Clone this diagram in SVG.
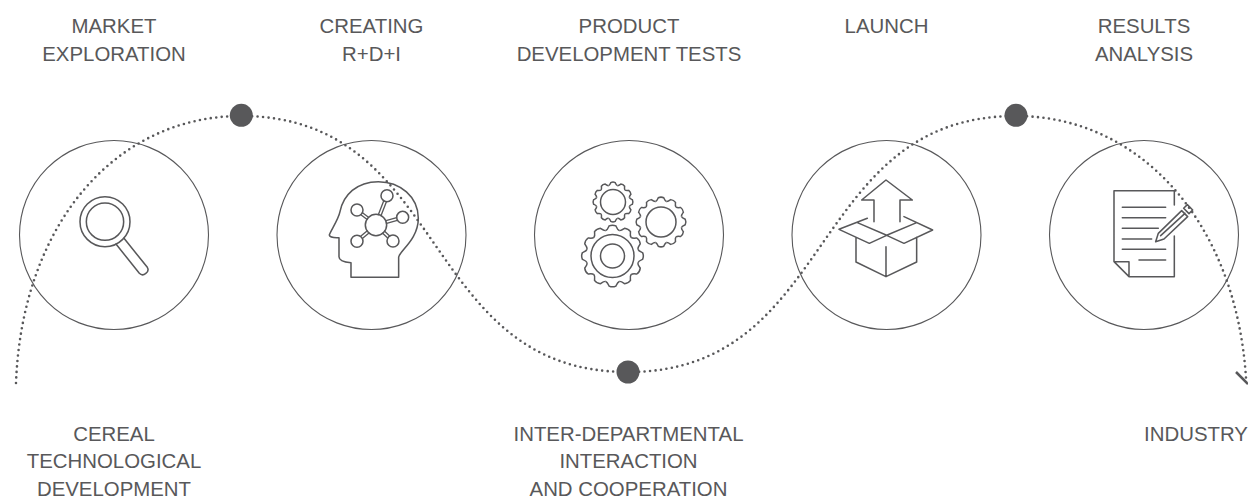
<svg xmlns="http://www.w3.org/2000/svg" width="1248" height="499" viewBox="0 0 1248 499">
<style>
text{font-family:"Liberation Sans",Arial,sans-serif;font-size:20.4px;fill:#58585a;text-anchor:middle}
.ring{fill:#fff;stroke:#58585a;stroke-width:1.1}
.dot{fill:#58585a}
.ic{fill:none;stroke:#58585a;stroke-width:4.6;stroke-linejoin:round;stroke-linecap:round}
.gr{fill:none;stroke:#58585a;stroke-width:1.5}
.flow{fill:none;stroke:#58585a;stroke-width:2.6;stroke-linecap:round;stroke-dasharray:0 5.5}
</style>
<defs>
<path id="t" vector-effect="non-scaling-stroke" d="M-.22-.82C-.16-.84-.14-.9-.11-.97Q0-1.02.11-.97C.14-.9.16-.84.22-.82"/>
<g id="gear"><use href="#t"/><use href="#t" transform="rotate(30)"/><use href="#t" transform="rotate(60)"/><use href="#t" transform="rotate(90)"/><use href="#t" transform="rotate(120)"/><use href="#t" transform="rotate(150)"/><use href="#t" transform="rotate(180)"/><use href="#t" transform="rotate(210)"/><use href="#t" transform="rotate(240)"/><use href="#t" transform="rotate(270)"/><use href="#t" transform="rotate(300)"/><use href="#t" transform="rotate(330)"/></g>
</defs>
<g id="node-market">
<circle class="ring" cx="114" cy="235" r="94.5"/>
<g class="ic" transform="translate(50,170) scale(.3333)"><circle cx="165" cy="155" r="75"/><circle cx="165" cy="155" r="56"/><path d="M198 222L268 310C280 322 300 305 292 292L222 205"/></g>
<text x="114" y="33">MARKET</text><text x="114" y="60.500">EXPLORATION</text>
</g>
<g id="node-creating">
<circle class="ring" cx="371.500" cy="235" r="94.500"/>
<g class="ic" transform="translate(280,140) scale(.3333)"><path d="M213 368V412H356V352C356 335 415 300 415 235C415 170 360 125 295 125C230 125 190 165 180 215C175 240 150 275 148 285C150 295 175 293 177 293V350C177 362 190 366 213 368Z"/><circle cx="288" cy="255" r="32"/><circle cx="321" cy="167" r="18"/><circle cx="368" cy="232" r="18"/><circle cx="339" cy="303" r="18"/><circle cx="231" cy="304" r="18"/><circle cx="231" cy="210" r="18"/><path stroke-width="4" d="M303 227L319 186M295 224L311 183M320 250L352 241M318 242L350 233M314 274L329 288M308 280L323 294M267 279L248 295M261 273L242 289M265.500 232L247.500 218M260.500 238L242.500 224"/></g>
<text x="371.500" y="33">CREATING</text><text x="371.500" y="60.500">R+D+I</text>
</g>
<g id="node-product">
<circle class="ring" cx="629" cy="235" r="94.500"/>
<g class="gr"><use href="#gear" transform="translate(613,202) scale(20)"/><circle cx="613" cy="202" r="12.500"/><use href="#gear" transform="translate(661,222) scale(25)"/><circle cx="661" cy="222" r="15"/><use href="#gear" transform="translate(612.500,256) scale(31)"/><circle cx="612.500" cy="256" r="21.500"/><circle cx="612.500" cy="256" r="12"/></g>
<text x="629" y="33">PRODUCT</text><text x="629" y="60.500">DEVELOPMENT TESTS</text>
</g>
<g id="node-launch">
<circle class="ring" cx="886.500" cy="235" r="94.500"/>
<g class="ic" transform="translate(820,160) scale(.3333)"><path d="M162 185V120H125L198 60L277 120H240V185M142 175L57 208L148 250L200 226L252 250L338 210L252 170M112 188L200 226L290 188M108 232V306L198 350L290 306V232M198 260V350"/></g>
<text x="886.500" y="33">LAUNCH</text>
</g>
<g id="node-results">
<circle class="ring" cx="1144" cy="235" r="94.500"/>
<g class="ic" transform="translate(1090,170) scale(.3333)"><path d="M253 105V62H72V275L117 320H253V198M72 275H117V320M97 112H227M97 143H227M97 175H205M97 207H185M97 238H227M147 270H227M197 215L205 190L275 122L293 140L222 207ZM212 197L285 130M281 115L292 104L308 120L297 131Z"/></g>
<text x="1144" y="33">RESULTS</text><text x="1144" y="60.500">ANALYSIS</text>
</g>
<g id="connectors">
<path class="flow" d="M16 383C22 225 115 116 241 116"/>
<path class="flow" d="M241 116C450 116 419 372 628 372"/>
<path class="flow" d="M628 372C837 372 807 116 1016 116"/>
<path class="flow" d="M1016 116C1140 116 1236 222 1246 378"/>
<path d="M1236 372L1248 384" stroke="#58585a" stroke-width="2.500" fill="none"/>
</g>
<g id="node-cereal"><circle class="dot" cx="241.300" cy="115.300" r="11.500"/>
<text x="114" y="440.500">CEREAL</text><text x="114" y="468">TECHNOLOGICAL</text><text x="114" y="495.500">DEVELOPMENT</text></g>
<g id="node-inter"><circle class="dot" cx="628" cy="372" r="11.500"/>
<text x="628.500" y="440.500">INTER-DEPARTMENTAL</text><text x="628.500" y="468">INTERACTION</text><text x="628.500" y="495.500">AND COOPERATION</text></g>
<g id="node-industry"><circle class="dot" cx="1016" cy="115.300" r="11.500"/>
<text x="1196" y="440.500">INDUSTRY</text></g>
</svg>
